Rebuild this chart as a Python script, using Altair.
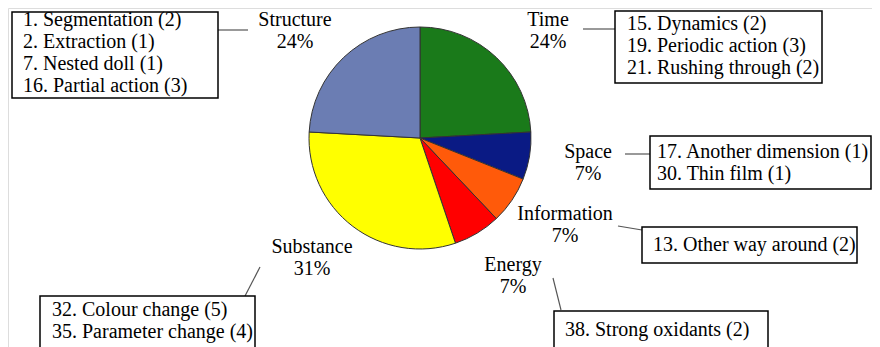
import altair as alt
import pandas as pd

# ---- data ----
categories = ["Time", "Space", "Information", "Energy", "Substance", "Structure"]
counts = [7, 2, 2, 2, 9, 7]
colors = ["#1a7a1a", "#0a1a84", "#ff5a0a", "#ff0000", "#ffff00", "#6b7db3"]
principles = [
    ["15. Dynamics (2)", "19. Periodic action (3)", "21. Rushing through (2)"],
    ["17. Another dimension (1)", "30. Thin film (1)"],
    ["13. Other way around (2)"],
    ["38. Strong oxidants (2)"],
    ["32. Colour change (5)", "35. Parameter change (4)"],
    ["1. Segmentation (2)", "2. Extraction (1)", "7. Nested doll (1)", "16. Partial action (3)"],
]

# ---- layout (image pixel coordinates) ----
label_pos = [(548, 20), (588, 152), (565, 214), (513, 265), (312, 247), (295, 20)]
box_pos = [(615, 11, 822, 83), (650, 136, 871, 189), (642, 227, 857, 263),
           (554, 311, 768, 352), (40, 296, 255, 352), (12, 12, 218, 98)]
text_x = [627, 657, 653, 565, 52, 23]
text_y0 = [24, 152, 245, 330, 310, 20]
line_gap = 22
connectors = [(583, 29, 615, 29), (625, 154, 650, 154), (618, 226, 642, 230),
              (553, 278, 561, 310), (260, 267, 245, 296), (218, 30, 248, 30)]
cx, cy, r = 420, 138, 111

total = sum(counts)
pie_df = pd.DataFrame({"cat": categories, "count": counts, "order": list(range(len(categories)))})

lab_rows, box_rows, txt_rows, con_rows = [], [], [], []
for i, c in enumerate(categories):
    pct = f"{round(100 * counts[i] / total)}%"
    lab_rows.append({"x": label_pos[i][0], "y": label_pos[i][1], "t": c})
    lab_rows.append({"x": label_pos[i][0], "y": label_pos[i][1] + 22, "t": pct})
    bx = box_pos[i]
    box_rows.append({"x": bx[0], "y": bx[1], "x2": bx[2], "y2": bx[3]})
    for j, p in enumerate(principles[i]):
        txt_rows.append({"x": text_x[i], "y": text_y0[i] + j * line_gap, "t": p})
    cn = connectors[i]
    con_rows.append({"x": cn[0], "y": cn[1], "x2": cn[2], "y2": cn[3]})

W, H = 864, 339
xs = alt.Scale(domain=[8, 8 + W])
ys = alt.Scale(domain=[8 + H, 8])
FONT = "Liberation Serif"
FS = 20

pie = alt.Chart(pie_df).mark_arc(radius=r, stroke="#333333", strokeWidth=1).encode(
    theta=alt.Theta("count:Q", stack=True),
    order=alt.Order("order:Q"),
    color=alt.Color("cat:N", scale=alt.Scale(domain=categories, range=colors), legend=None),
    x=alt.value(cx - 8),
    y=alt.value(cy - 8),
)

conn = alt.Chart(pd.DataFrame(con_rows)).mark_rule(color="#555555", strokeWidth=1.2).encode(
    x=alt.X("x:Q", scale=xs, axis=None), y=alt.Y("y:Q", scale=ys, axis=None),
    x2="x2:Q", y2="y2:Q",
)

boxes = alt.Chart(pd.DataFrame(box_rows)).mark_rect(fill="white", stroke="black", strokeWidth=1.5).encode(
    x=alt.X("x:Q", scale=xs, axis=None), y=alt.Y("y:Q", scale=ys, axis=None),
    x2="x2:Q", y2="y2:Q",
)

btext = alt.Chart(pd.DataFrame(txt_rows)).mark_text(
    font=FONT, fontSize=FS, align="left", baseline="middle", color="black"
).encode(
    x=alt.X("x:Q", scale=xs, axis=None), y=alt.Y("y:Q", scale=ys, axis=None), text="t:N"
)

labels = alt.Chart(pd.DataFrame(lab_rows)).mark_text(
    font=FONT, fontSize=FS, align="center", baseline="middle", color="black"
).encode(
    x=alt.X("x:Q", scale=xs, axis=None), y=alt.Y("y:Q", scale=ys, axis=None), text="t:N"
)

chart = alt.layer(conn, boxes, btext, labels, pie).properties(
    width=W, height=H, padding=0, autosize=alt.AutoSizeParams(type="none")
).configure_view(stroke=None).configure(background="white")

chart.save("out.html", embed_options={"renderer": "svg", "actions": False})
